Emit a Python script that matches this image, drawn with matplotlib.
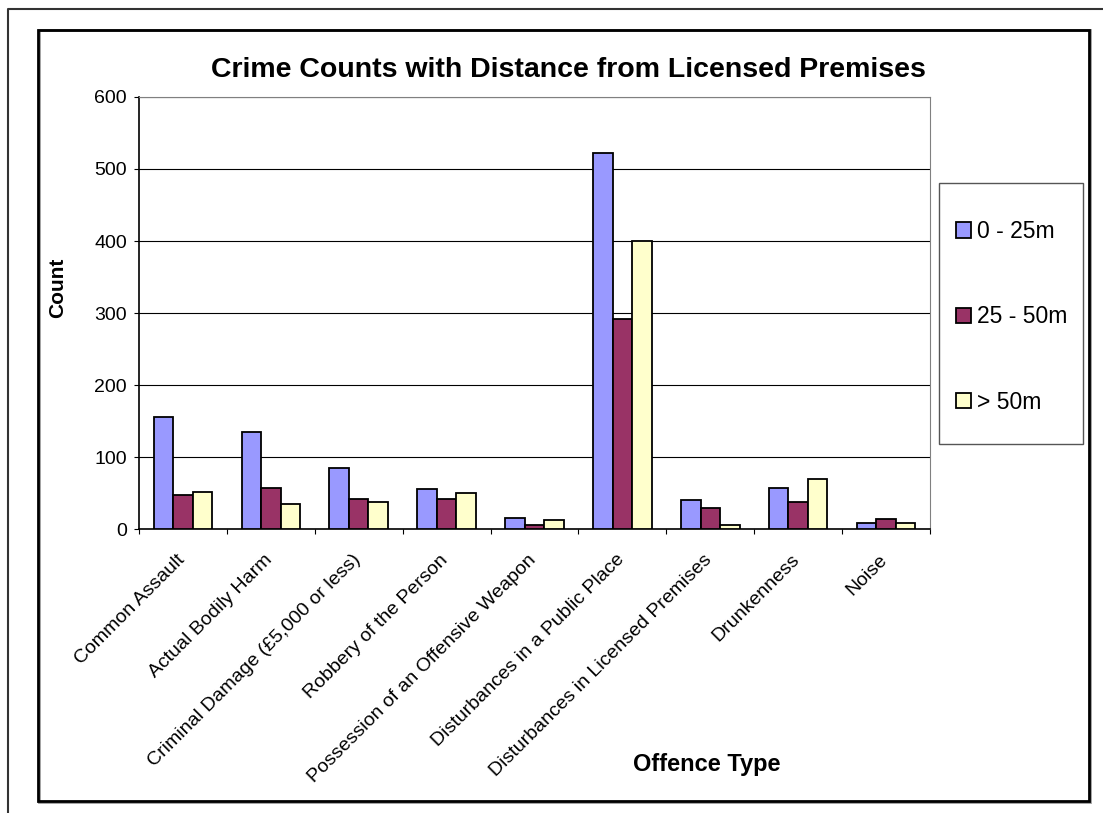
import matplotlib.pyplot as plt
import numpy as np
from matplotlib.patches import Rectangle
from matplotlib.lines import Line2D

plt.rcParams['font.family'] = ['Liberation Sans', 'DejaVu Sans']

offences = ["Common Assault", "Actual Bodily Harm", "Criminal Damage (£5,000 or less)",
            "Robbery of the Person", "Possession of an Offensive Weapon",
            "Disturbances in a Public Place", "Disturbances in Licensed Premises",
            "Drunkenness", "Noise"]
series_names = ["0 - 25m", "25 - 50m", "> 50m"]
near = [155, 135, 85, 55, 15, 522, 40, 57, 9]
mid = [47, 57, 42, 42, 6, 291, 29, 37, 14]
far = [52, 35, 37, 50, 12, 400, 6, 70, 9]
colors = ["#9999FF", "#993366", "#FFFFCC"]

W, H = 1103, 813
fig = plt.figure(figsize=(W / 100, H / 100), dpi=100)

# outer frame (partially cut off) and inner chart frame
fig.add_artist(Line2D([8 / W, 8 / W, 1.0], [0, 1 - 9 / H, 1 - 9 / H],
                      transform=fig.transFigure, color="#333333", lw=1.5))
fig.add_artist(Rectangle((39 / W, 1 - 802 / H), 1051 / W, 772 / H, transform=fig.transFigure,
                         fill=False, edgecolor="#999999", lw=2))
fig.add_artist(Rectangle((38 / W, 1 - 801 / H), 1051 / W, 771 / H, transform=fig.transFigure,
                         fill=False, edgecolor="black", lw=2))

ax = fig.add_axes([139 / W, 1 - 529 / H, 791 / W, 432 / H])

x = np.arange(len(offences))
bw = 1 / 4.5
for i, (vals, name) in enumerate(zip([near, mid, far], series_names)):
    ax.bar(x + (i - 1) * bw, vals, width=bw, color=colors[i], edgecolor="black",
           linewidth=1.3, label=name, zorder=3)

ax.set_xlim(-0.5, len(offences) - 0.5)
ax.set_ylim(0, 600)
ax.set_yticks(range(0, 601, 100))
ax.yaxis.grid(True, color="black", lw=0.8, zorder=0)
ax.set_xticks(np.arange(-0.5, len(offences), 1.0))
ax.set_xticklabels([])
# labels end slightly left of the category centre, as in the original
ax.set_xticks(x - 0.08, minor=True)
ax.set_xticklabels(offences, minor=True, rotation=45, ha="right", va="top",
                   rotation_mode="anchor", fontsize=14)
ax.tick_params(axis="x", which="minor", length=0, pad=16)
ax.tick_params(axis="x", which="major", length=3.6, color="black")
ax.tick_params(axis="y", length=3.6, labelsize=14, pad=5)

ax.spines["top"].set_color("#808080")
ax.spines["right"].set_color("#808080")
ax.spines["left"].set_linewidth(1.2)
ax.spines["bottom"].set_linewidth(1.2)

fig.text(58 / W, 1 - 288 / H, "Count", fontsize=15, fontweight="bold", rotation=90,
         ha="center", va="center")
fig.text(707 / W, 1 - 764 / H, "Offence Type", fontsize=17, fontweight="bold",
         ha="center", va="center")
fig.text(568 / W, 1 - 70 / H, "Crime Counts with Distance from Licensed Premises",
         fontsize=20.5, fontweight="bold", ha="center", va="center")

# legend frame drawn separately so its size matches the original
fig.add_artist(Rectangle((939 / W, 1 - 444 / H), 144 / W, 261 / H, transform=fig.transFigure,
                         fill=False, edgecolor="#555555", lw=1.0))
leg = fig.legend(loc="upper left", bbox_to_anchor=(956 / W, 1 - 220 / H), fontsize=16.5,
                 frameon=False, handlelength=0.65, handleheight=0.65, handletextpad=0.25,
                 labelspacing=2.72, borderpad=0, borderaxespad=0)

fig.savefig("out.png", dpi=100)
